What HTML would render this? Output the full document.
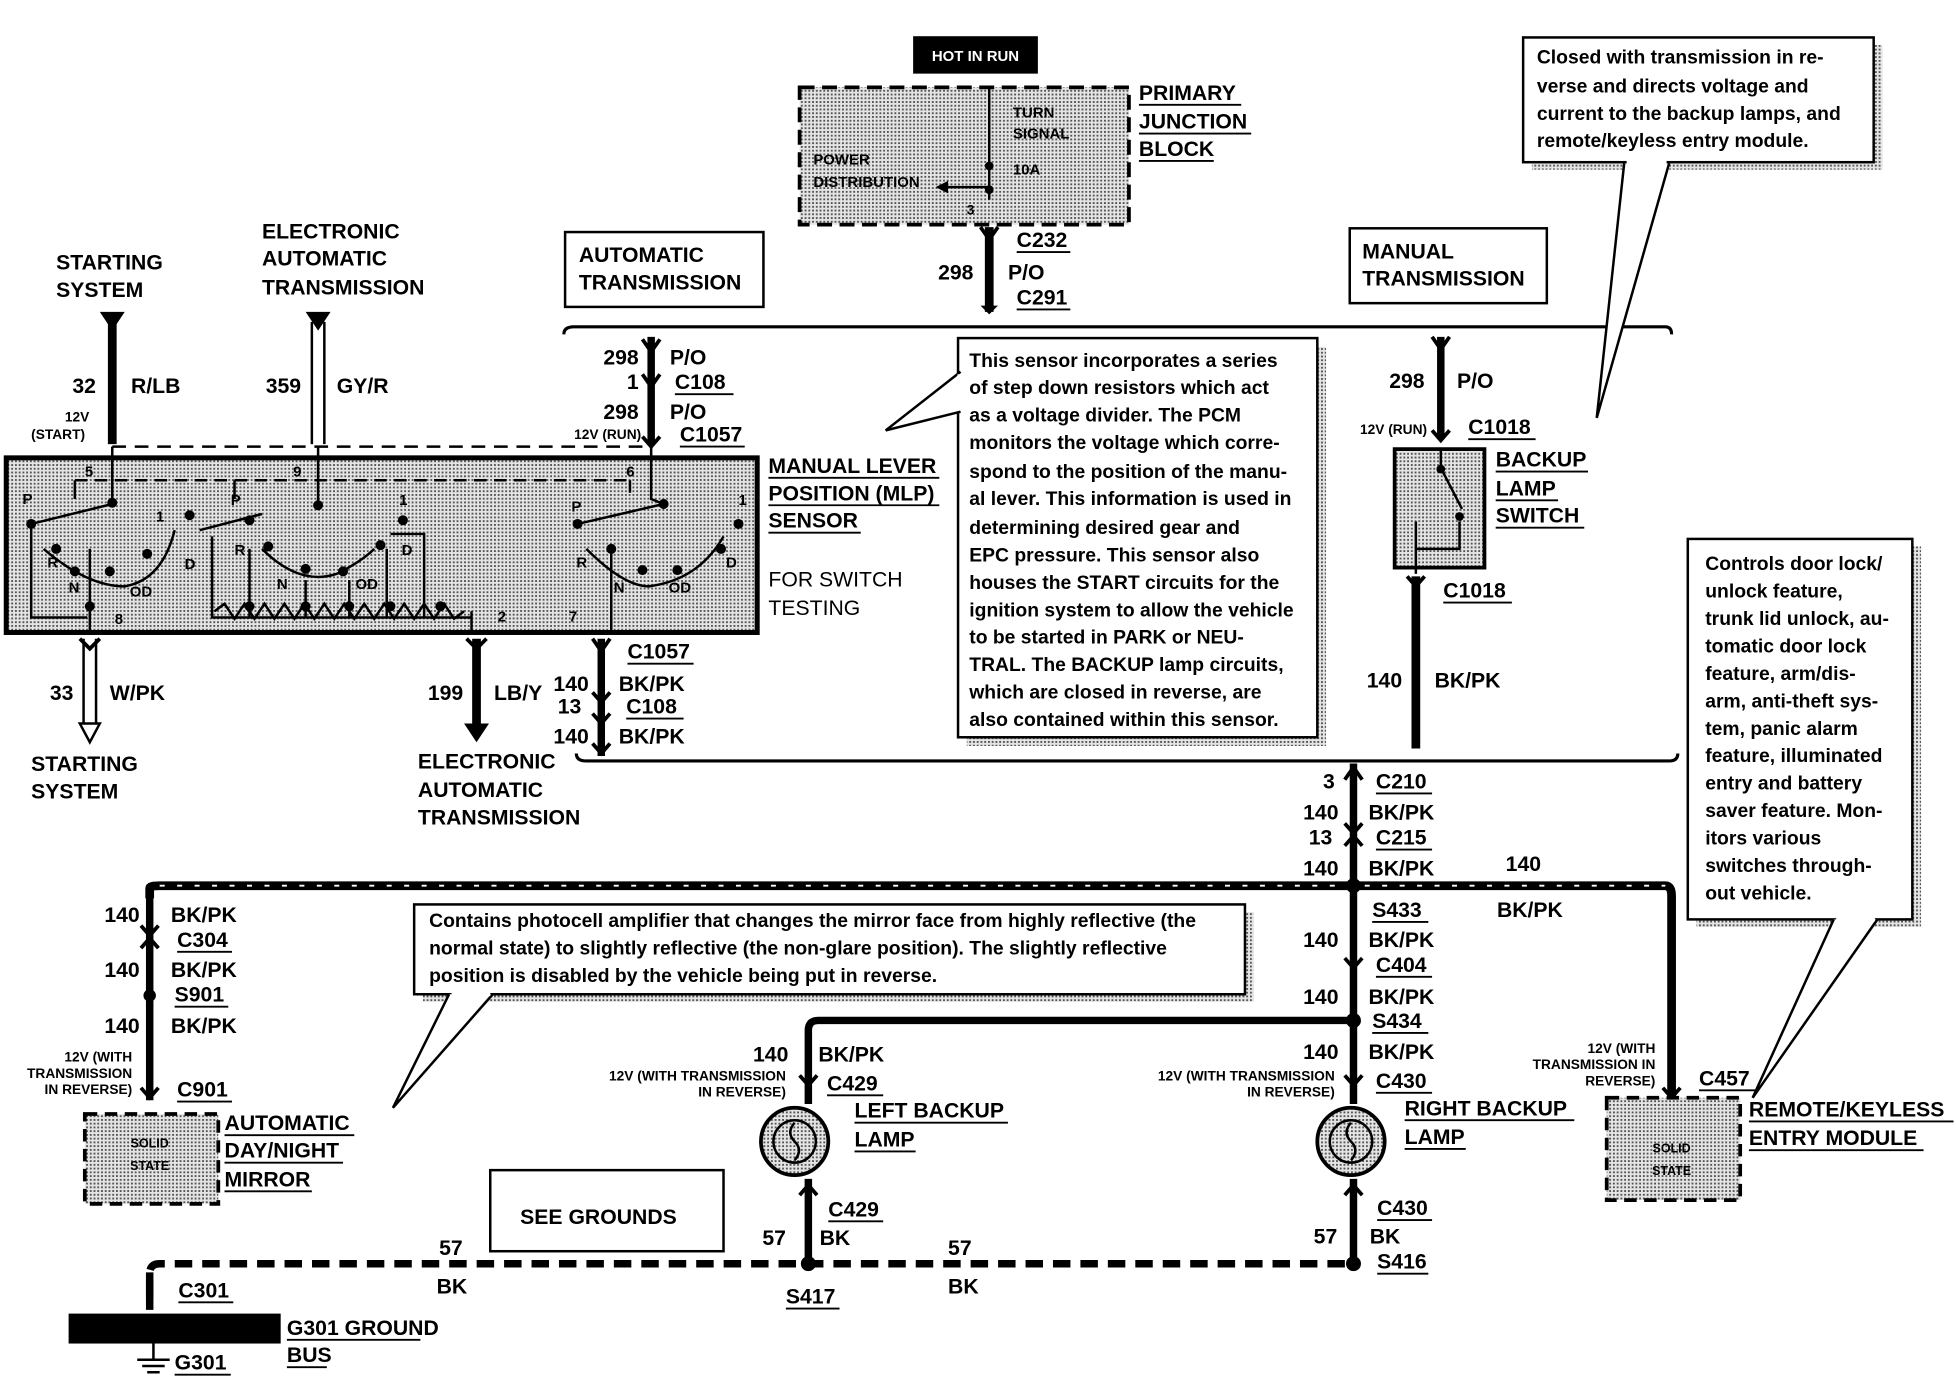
<!DOCTYPE html>
<html><head><meta charset="utf-8"><style>
html,body{margin:0;padding:0;background:#fff}
svg{display:block}
text{font-family:"Liberation Sans",Arial,sans-serif;font-weight:bold;fill:#000}
</style></head><body>
<svg width="1956" height="1376" viewBox="0 0 1568 1103" xmlns="http://www.w3.org/2000/svg">
<defs>
<pattern id="dots" width="3" height="3" patternUnits="userSpaceOnUse"><rect width="3" height="3" fill="#e4e4e4"/><rect width="1.5" height="1.5" fill="#555"/></pattern>
</defs>
<g font-size="17">
<rect x="732" y="29" width="100" height="30" fill="#000"/>
<text x="782" y="49" font-size="12" text-anchor="middle" style="fill:#fff">HOT IN RUN</text>
<rect x="641" y="70" width="264" height="110" fill="url(#dots)" stroke="#000" stroke-width="3" stroke-dasharray="12,6"/>
<path d="M793 70 V160 M793 150 H760" stroke="#000" stroke-width="2" fill="none"/>
<path d="M760 145 L750 150 L760 155Z"/>
<circle cx="793" cy="133" r="3.5"/><circle cx="793" cy="152" r="3.5"/>
<text x="812" y="94" font-size="12" font-weight="normal">TURN</text>
<text x="812" y="111" font-size="12" font-weight="normal">SIGNAL</text>
<text x="812" y="140" font-size="12" font-weight="normal">10A</text>
<text x="652" y="132" font-size="12" font-weight="normal">POWER</text>
<text x="652" y="150" font-size="12" font-weight="normal">DISTRIBUTION</text>
<text x="775" y="172" font-size="11">3</text>
<text x="913" y="80">PRIMARY</text><text x="913" y="103">JUNCTION</text><text x="913" y="125">BLOCK</text>
<path d="M913 84H995M913 107H1003M913 129H973" stroke="#000" stroke-width="1.5"/>
<path d="M793 182V250" stroke="#000" stroke-width="7"/>
<path d="M786 182L793 192L800 182" stroke="#000" stroke-width="3" fill="none"/>
<path d="M786 245L793 252L800 245Z"/>
<text x="815" y="198">C232</text><text x="752" y="224">298</text><text x="808" y="224">P/O</text><text x="815" y="244">C291</text>
<path d="M815 202H858M815 248H858" stroke="#000" stroke-width="1.5"/>
<path d="M452 268Q452 262 460 262H1335Q1340 262 1340 268" stroke="#000" stroke-width="2.5" fill="none"/>
<rect x="453" y="186" width="159" height="60" fill="#fff" stroke="#000" stroke-width="2"/>
<text x="464" y="210">AUTOMATIC</text><text x="464" y="232">TRANSMISSION</text>
<rect x="1082" y="183" width="158" height="60" fill="#fff" stroke="#000" stroke-width="2"/>
<text x="1092" y="207">MANUAL</text><text x="1092" y="229">TRANSMISSION</text>
<rect x="1228" y="36" width="281" height="100" fill="url(#dots)"/>
<rect x="1221" y="30" width="281" height="100" fill="#fff" stroke="#000" stroke-width="2"/>
<path d="M1302 131L1280 335L1338 131" fill="#fff" stroke="#000" stroke-width="2"/>
<path d="M1304 130H1336" stroke="#fff" stroke-width="3"/>
<text x="1232" y="51" font-size="15.5">Closed with transmission in re-</text>
<text x="1232" y="74" font-size="15.5">verse and directs voltage and</text>
<text x="1232" y="96" font-size="15.5">current to the backup lamps, and</text>
<text x="1232" y="118" font-size="15.5">remote/keyless entry module.</text>
<text x="45" y="216">STARTING</text><text x="45" y="238">SYSTEM</text>
<path d="M80 250H100L90 265Z"/>
<path d="M90 258V356" stroke="#000" stroke-width="7"/>
<text x="58" y="315">32</text><text x="105" y="315">R/LB</text>
<text x="52" y="338" font-size="11">12V</text><text x="25" y="352" font-size="11">(START)</text>
<text x="210" y="191">ELECTRONIC</text><text x="210" y="213">AUTOMATIC</text><text x="210" y="236">TRANSMISSION</text>
<path d="M245 250H265L255 265Z"/>
<path d="M250 258V356M260 258V356" stroke="#000" stroke-width="2"/>
<text x="213" y="315">359</text><text x="270" y="315">GY/R</text>
<path d="M90 358H522" stroke="#000" stroke-width="2" stroke-dasharray="11,7"/>
<!-- wire 522 top -->
<path d="M522 270V356" stroke="#000" stroke-width="6"/>
<path d="M515 272L522 282L529 272M515 300L522 310L529 300M515 350L522 358L529 350" stroke="#000" stroke-width="3" fill="none"/>
<text x="512" y="292" text-anchor="end">298</text><text x="537" y="292">P/O</text>
<text x="512" y="312" text-anchor="end">1</text><text x="541" y="312">C108</text>
<text x="512" y="336" text-anchor="end">298</text><text x="537" y="336">P/O</text>
<text x="514" y="352" font-size="11" text-anchor="end">12V (RUN)</text><text x="545" y="354">C1057</text>
<path d="M541 316H588M545 358H597" stroke="#000" stroke-width="1.5"/>
<rect x="5" y="367" width="602" height="140" fill="url(#dots)" stroke="#000" stroke-width="4"/>
<g stroke="#000" stroke-width="2" fill="none">
<path d="M90 358V403M255 358V405M522 358V400L532 404"/>
<path d="M60 385H505" stroke-dasharray="10,6"/>
<path d="M60 385V400M188 385V400M505 385V395"/>
<path d="M25 420L90 404M160 425L210 412M463 420L532 404"/>
<path d="M25 420V495H70"/>
<path d="M35 440Q70 470 100 470Q130 465 140 425"/>
<path d="M210 440Q240 470 270 460Q290 450 300 440"/>
<path d="M470 440Q500 470 520 470Q560 465 580 430"/>
<path d="M72 440V495M170 430V495H378M313 428H340V495"/>
<path d="M200 440V495M245 465V495M280 465V495M310 440V495"/>
<path d="M72 480V507M490 440V507M378 490V507"/>
</g>
<path d="M172 490L180 484L188 496L196 484L204 496L212 484L220 496L228 484L236 496L244 484L252 496L260 484L268 496L276 484L284 496L292 484L300 496L308 484L316 496L324 484L332 496L340 484L348 496L356 484L364 496L372 490" stroke="#000" stroke-width="2" fill="none"/>
<g fill="#000">
<circle cx="90" cy="403" r="4"/><circle cx="25" cy="420" r="4"/><circle cx="152" cy="413" r="4"/><circle cx="45" cy="440" r="4"/><circle cx="60" cy="458" r="4"/><circle cx="88" cy="458" r="4"/><circle cx="118" cy="444" r="4"/><circle cx="72" cy="486" r="4"/>
<circle cx="255" cy="405" r="4"/><circle cx="200" cy="417" r="4"/><circle cx="323" cy="417" r="4"/><circle cx="215" cy="438" r="4"/><circle cx="245" cy="456" r="4"/><circle cx="275" cy="458" r="4"/><circle cx="305" cy="437" r="4"/>
<circle cx="200" cy="486" r="4"/><circle cx="245" cy="486" r="4"/><circle cx="280" cy="486" r="4"/><circle cx="313" cy="486" r="4"/><circle cx="353" cy="486" r="4"/>
<circle cx="532" cy="404" r="4"/><circle cx="463" cy="420" r="4"/><circle cx="592" cy="420" r="4"/><circle cx="490" cy="440" r="4"/><circle cx="515" cy="457" r="4"/><circle cx="543" cy="457" r="4"/><circle cx="578" cy="440" r="4"/>
</g>
<g font-size="12">
<text x="68" y="382">5</text><text x="18" y="404">P</text><text x="125" y="418">1</text><text x="38" y="455">R</text><text x="55" y="475">N</text><text x="104" y="478">OD</text><text x="148" y="456">D</text><text x="92" y="500">8</text>
<text x="235" y="382">9</text><text x="185" y="405">P</text><text x="320" y="405">1</text><text x="188" y="445">R</text><text x="222" y="472">N</text><text x="285" y="472">OD</text><text x="322" y="445">D</text><text x="399" y="498">2</text>
<text x="502" y="382">6</text><text x="458" y="410">P</text><text x="592" y="405">1</text><text x="462" y="455">R</text><text x="492" y="475">N</text><text x="536" y="475">OD</text><text x="582" y="455">D</text><text x="456" y="498">7</text>
</g>
<text x="616" y="379">MANUAL LEVER</text><text x="616" y="401">POSITION (MLP)</text><text x="616" y="423">SENSOR</text>
<path d="M616 383H753M616 405H753M616 427H690" stroke="#000" stroke-width="1.5"/>
<text x="616" y="470" style="font-weight:normal">FOR SWITCH</text><text x="616" y="493" style="font-weight:normal">TESTING</text>
<path d="M72 507H482" stroke="#000" stroke-width="2" stroke-dasharray="11,7"/>
<path d="M67 512V580M77 512V580" stroke="#000" stroke-width="2"/>
<path d="M64 580H80L72 595Z" fill="#fff" stroke="#000" stroke-width="2"/>
<path d="M64 512L72 520L80 512" stroke="#000" stroke-width="3" fill="none"/>
<text x="40" y="561">33</text><text x="88" y="561">W/PK</text>
<text x="25" y="618">STARTING</text><text x="25" y="640">SYSTEM</text>
<path d="M382 512V582" stroke="#000" stroke-width="7"/>
<path d="M372 580H392L382 595Z"/>
<path d="M374 512L382 520L390 512" stroke="#000" stroke-width="3" fill="none"/>
<text x="343" y="561">199</text><text x="396" y="561">LB/Y</text>
<text x="335" y="616">ELECTRONIC</text><text x="335" y="639">AUTOMATIC</text><text x="335" y="661">TRANSMISSION</text>
<path d="M482 512V606" stroke="#000" stroke-width="6"/>
<path d="M475 512L482 522L489 512M475 555L482 563L489 555M475 572L482 580L489 572M475 596L482 604L489 596" stroke="#000" stroke-width="3" fill="none"/>
<text x="503" y="528">C1057</text><path d="M503 532H556" stroke="#000" stroke-width="1.5"/>
<text x="472" y="554" text-anchor="end">140</text><text x="496" y="554">BK/PK</text>
<text x="466" y="572" text-anchor="end">13</text><text x="502" y="572">C108</text><path d="M502 576H548" stroke="#000" stroke-width="1.5"/>
<text x="472" y="596" text-anchor="end">140</text><text x="496" y="596">BK/PK</text>
<path d="M462 604Q462 610 470 610H1338Q1345 610 1345 604" stroke="#000" stroke-width="2.5" fill="none"/>
<rect x="775" y="278" width="288" height="320" fill="url(#dots)"/>
<rect x="768" y="271" width="288" height="320" fill="#fff" stroke="#000" stroke-width="2"/>
<path d="M770 298L710 345L770 330" fill="#fff" stroke="#000" stroke-width="2"/>
<path d="M769 300V328" stroke="#fff" stroke-width="3"/>
<g font-size="15.5">
<text x="777" y="294">This sensor incorporates a series</text>
<text x="777" y="316">of step down resistors which act</text>
<text x="777" y="338">as a voltage divider. The PCM</text>
<text x="777" y="360">monitors the voltage which corre-</text>
<text x="777" y="383">spond to the position of the manu-</text>
<text x="777" y="405">al lever. This information is used in</text>
<text x="777" y="428">determining desired gear and</text>
<text x="777" y="450">EPC pressure. This sensor also</text>
<text x="777" y="472">houses the START circuits for the</text>
<text x="777" y="494">ignition system to allow the vehicle</text>
<text x="777" y="516">to be started in PARK or NEU-</text>
<text x="777" y="538">TRAL. The BACKUP lamp circuits,</text>
<text x="777" y="560">which are closed in reverse, are</text>
<text x="777" y="582">also contained within this sensor.</text>
</g>
<path d="M1155 270V352" stroke="#000" stroke-width="6"/>
<path d="M1148 270L1155 280L1162 270M1148 345L1155 353L1162 345" stroke="#000" stroke-width="3" fill="none"/>
<text x="1142" y="311" text-anchor="end">298</text><text x="1168" y="311">P/O</text>
<text x="1144" y="348" font-size="11" text-anchor="end">12V (RUN)</text><text x="1177" y="348">C1018</text>
<path d="M1177 352H1231" stroke="#000" stroke-width="1.5"/>
<rect x="1118" y="360" width="72" height="95" fill="url(#dots)" stroke="#000" stroke-width="3"/>
<path d="M1155 360V375L1172 408M1170 418V440H1135V418M1135 440V460" stroke="#000" stroke-width="2" fill="none"/>
<circle cx="1155" cy="376" r="3.5"/><circle cx="1170" cy="414" r="3.5"/>
<text x="1199" y="374">BACKUP</text><text x="1199" y="397">LAMP</text><text x="1199" y="419">SWITCH</text>
<path d="M1199 378H1273M1199 401H1249M1199 423H1270" stroke="#000" stroke-width="1.5"/>
<path d="M1135 462V600" stroke="#000" stroke-width="7"/>
<path d="M1128 462L1135 470L1142 462" stroke="#000" stroke-width="3" fill="none"/>
<text x="1157" y="479">C1018</text><path d="M1157 483H1212" stroke="#000" stroke-width="1.5"/>
<text x="1124" y="551" text-anchor="end">140</text><text x="1150" y="551">BK/PK</text>
<rect x="1360" y="438" width="180" height="305" fill="url(#dots)"/>
<rect x="1353" y="432" width="180" height="305" fill="#fff" stroke="#000" stroke-width="2"/>
<path d="M1470 737L1405 880L1505 737" fill="#fff" stroke="#000" stroke-width="2"/>
<path d="M1472 737H1503" stroke="#fff" stroke-width="3"/>
<g font-size="15.5">
<text x="1367" y="457">Controls door lock/</text><text x="1367" y="479">unlock feature,</text><text x="1367" y="501">trunk lid unlock, au-</text>
<text x="1367" y="523">tomatic door lock</text><text x="1367" y="545">feature, arm/dis-</text><text x="1367" y="567">arm, anti-theft sys-</text>
<text x="1367" y="589">tem, panic alarm</text><text x="1367" y="611">feature, illuminated</text><text x="1367" y="633">entry and battery</text>
<text x="1367" y="655">saver feature. Mon-</text><text x="1367" y="677">itors various</text><text x="1367" y="699">switches through-</text><text x="1367" y="721">out vehicle.</text>
</g>
<path d="M1085 612V885" stroke="#000" stroke-width="6"/>
<path d="M1078 625L1085 615L1092 625M1078 660L1085 668L1092 660M1078 678L1085 670L1092 678M1078 768L1085 776L1092 768M1078 862L1085 870L1092 862" stroke="#000" stroke-width="3" fill="none"/>
<text x="1070" y="632" text-anchor="end">3</text><text x="1103" y="632">C210</text>
<text x="1073" y="657" text-anchor="end">140</text><text x="1097" y="657">BK/PK</text>
<text x="1068" y="677" text-anchor="end">13</text><text x="1103" y="677">C215</text>
<text x="1073" y="702" text-anchor="end">140</text><text x="1097" y="702">BK/PK</text>
<text x="1100" y="735">S433</text>
<text x="1073" y="759" text-anchor="end">140</text><text x="1097" y="759">BK/PK</text>
<text x="1103" y="779">C404</text>
<text x="1073" y="805" text-anchor="end">140</text><text x="1097" y="805">BK/PK</text>
<text x="1100" y="824">S434</text>
<text x="1073" y="849" text-anchor="end">140</text><text x="1097" y="849">BK/PK</text>
<text x="1103" y="872">C430</text>
<path d="M1103 636H1148M1103 681H1148M1100 739H1145M1103 783H1148M1100 828H1145M1103 876H1148" stroke="#000" stroke-width="1.5"/>
<path d="M120 720V712Q120 710 128 710H1335Q1340 710 1340 718V880" stroke="#000" stroke-width="7" fill="none"/>
<path d="M128 710H1335" stroke="#fff" stroke-width="1.5" stroke-dasharray="4,10" fill="none"/>
<circle cx="1085" cy="710" r="6"/>
<text x="1207" y="698">140</text><text x="1200" y="735">BK/PK</text>
<path d="M120 715V882" stroke="#000" stroke-width="6"/>
<path d="M113 742L120 750L127 742M113 760L120 752L127 760M113 872L120 880L127 872" stroke="#000" stroke-width="3" fill="none"/>
<circle cx="120" cy="798" r="5"/>
<text x="112" y="739" text-anchor="end">140</text><text x="137" y="739">BK/PK</text>
<text x="142" y="759">C304</text>
<text x="112" y="783" text-anchor="end">140</text><text x="137" y="783">BK/PK</text>
<text x="140" y="803">S901</text>
<text x="112" y="828" text-anchor="end">140</text><text x="137" y="828">BK/PK</text>
<text x="142" y="879">C901</text>
<path d="M142 763H186M140 807H183M142 883H186" stroke="#000" stroke-width="1.5"/>
<g font-size="11" text-anchor="end"><text x="106" y="851">12V (WITH</text><text x="106" y="864">TRANSMISSION</text><text x="106" y="877">IN REVERSE)</text></g>
<rect x="68" y="893" width="107" height="72" fill="url(#dots)" stroke="#000" stroke-width="3" stroke-dasharray="10,6"/>
<text x="120" y="920" font-size="10" text-anchor="middle" font-weight="normal">SOLID</text>
<text x="120" y="938" font-size="10" text-anchor="middle" font-weight="normal">STATE</text>
<text x="180" y="906">AUTOMATIC</text><text x="180" y="928">DAY/NIGHT</text><text x="180" y="951">MIRROR</text>
<path d="M180 910H284M180 932H275M180 955H250" stroke="#000" stroke-width="1.5"/>
<rect x="339" y="731" width="666" height="72" fill="url(#dots)"/>
<rect x="332" y="725" width="666" height="72" fill="#fff" stroke="#000" stroke-width="2"/>
<path d="M360 797L315 888L395 797" fill="#fff" stroke="#000" stroke-width="2"/>
<path d="M362 797H393" stroke="#fff" stroke-width="3"/>
<g font-size="15.5"><text x="344" y="743">Contains photocell amplifier that changes the mirror face from highly reflective (the</text>
<text x="344" y="765">normal state) to slightly reflective (the non-glare position). The slightly reflective</text>
<text x="344" y="787">position is disabled by the vehicle being put in reverse.</text></g>
<path d="M1085 818H656Q648 818 648 826V885" stroke="#000" stroke-width="6" fill="none"/>
<circle cx="1085" cy="818" r="6"/>
<path d="M641 862L648 870L655 862" stroke="#000" stroke-width="3" fill="none"/>
<text x="632" y="851" text-anchor="end">140</text><text x="656" y="851">BK/PK</text>
<g font-size="11" text-anchor="end"><text x="630" y="866">12V (WITH TRANSMISSION</text><text x="630" y="879">IN REVERSE)</text>
<text x="1070" y="866">12V (WITH TRANSMISSION</text><text x="1070" y="879">IN REVERSE)</text>
<text x="1327" y="844">12V (WITH</text><text x="1327" y="857">TRANSMISSION IN</text><text x="1327" y="870">REVERSE)</text></g>
<text x="663" y="874">C429</text><path d="M663 878H708" stroke="#000" stroke-width="1.5"/>
<circle cx="637" cy="915" r="27" fill="url(#dots)" stroke="#000" stroke-width="3"/>
<circle cx="637" cy="915" r="17" fill="none" stroke="#000" stroke-width="2"/>
<path d="M637 900Q630 908 637 915Q644 922 637 930" stroke="#000" stroke-width="2" fill="none"/>
<circle cx="1083" cy="915" r="27" fill="url(#dots)" stroke="#000" stroke-width="3"/>
<circle cx="1083" cy="915" r="17" fill="none" stroke="#000" stroke-width="2"/>
<path d="M1083 900Q1076 908 1083 915Q1090 922 1083 930" stroke="#000" stroke-width="2" fill="none"/>
<text x="685" y="896">LEFT BACKUP</text><text x="685" y="919">LAMP</text>
<path d="M685 900H808M685 923H734" stroke="#000" stroke-width="1.5"/>
<text x="1126" y="894">RIGHT BACKUP</text><text x="1126" y="917">LAMP</text>
<path d="M1126 898H1262M1126 921H1175" stroke="#000" stroke-width="1.5"/>
<path d="M1333 872L1340 880L1347 872" stroke="#000" stroke-width="3" fill="none"/>
<text x="1362" y="870">C457</text><path d="M1362 874H1407" stroke="#000" stroke-width="1.5"/>
<rect x="1288" y="880" width="107" height="82" fill="url(#dots)" stroke="#000" stroke-width="3" stroke-dasharray="10,6"/>
<text x="1340" y="924" font-size="10" text-anchor="middle" font-weight="normal">SOLID</text>
<text x="1340" y="942" font-size="10" text-anchor="middle" font-weight="normal">STATE</text>
<text x="1402" y="895">REMOTE/KEYLESS</text><text x="1402" y="918">ENTRY MODULE</text>
<path d="M1402 899H1566M1402 922H1542" stroke="#000" stroke-width="1.5"/>
<path d="M648 945V1013M1085 945V1013" stroke="#000" stroke-width="6"/>
<path d="M641 958L648 950L655 958M1078 958L1085 950L1092 958" stroke="#000" stroke-width="3" fill="none"/>
<text x="664" y="975">C429</text><text x="657" y="998">BK</text><text x="630" y="998" text-anchor="end">57</text>
<text x="1104" y="974">C430</text><text x="1098" y="997">BK</text><text x="1072" y="997" text-anchor="end">57</text>
<text x="1104" y="1017">S416</text><text x="630" y="1045">S417</text>
<path d="M664 979H708M1104 978H1148M1104 1021H1145M630 1049H673" stroke="#000" stroke-width="1.5"/>
<path d="M120 1040V1021Q120 1013 128 1013H1085" stroke="#000" stroke-width="6" stroke-dasharray="14,8" fill="none"/>
<circle cx="648" cy="1013" r="6"/><circle cx="1085" cy="1013" r="6"/>
<path d="M120 1020V1050" stroke="#000" stroke-width="6"/>
<text x="352" y="1006">57</text><text x="350" y="1037">BK</text>
<text x="760" y="1006">57</text><text x="760" y="1037">BK</text>
<text x="143" y="1040">C301</text><path d="M143 1044H187" stroke="#000" stroke-width="1.5"/>
<rect x="55" y="1053" width="170" height="24" fill="#000"/>
<text x="230" y="1070">G301 GROUND</text><text x="230" y="1092">BUS</text>
<path d="M230 1074H337M230 1096H262" stroke="#000" stroke-width="1.5"/>
<path d="M123 1077V1090M110 1090H136M114 1095H132M118 1100H128" stroke="#000" stroke-width="2"/>
<text x="140" y="1098">G301</text><path d="M140 1102H185" stroke="#000" stroke-width="1.5"/>
<rect x="393" y="938" width="187" height="65" fill="#fff" stroke="#000" stroke-width="2"/>
<text x="417" y="981">SEE GROUNDS</text>
</g>
</svg>
</body></html>
